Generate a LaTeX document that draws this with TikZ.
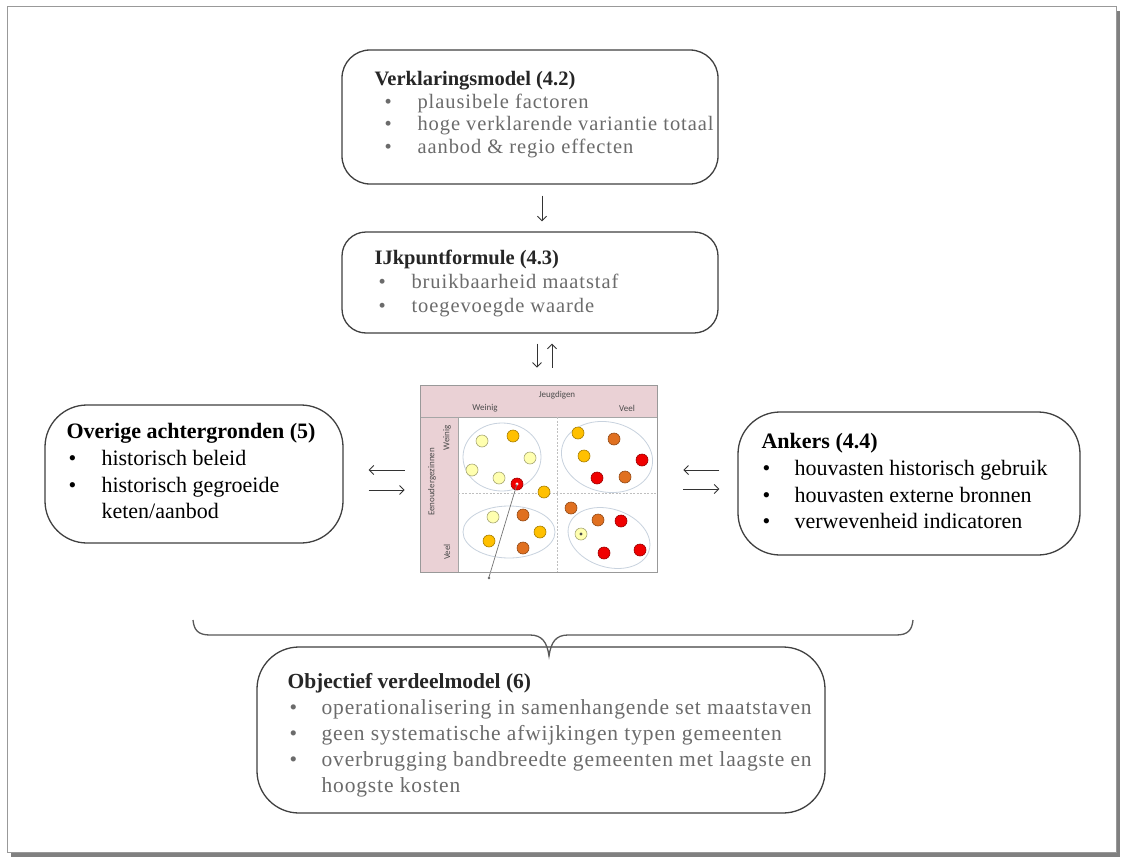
\documentclass[tikz,border=0pt]{standalone}
\usepackage{fontspec}
\setmainfont{Liberation Serif}
\newfontfamily\calib{Carlito}
\usetikzlibrary{arrows.meta,calc}
\definecolor{pinkhdr}{RGB}{234,209,213}
\definecolor{ly}{RGB}{255,255,175}
\definecolor{gd}{RGB}{255,192,0}
\definecolor{orr}{RGB}{224,112,32}
\definecolor{rd}{RGB}{240,0,0}
\definecolor{ellc}{RGB}{200,210,222}
\newcommand{\bl}[3]{\hspace*{#1}\makebox[#2][l]{•}#3}
\newcommand{\itm}[2]{\textcolor{black!58}{\addfontfeature{LetterSpace=#1}#2}}
\begin{document}
\begin{tikzpicture}[x=1pt,y=-1pt,
  box/.style={draw=black!75, line width=1.3pt, rectangle, fill=white, inner sep=0pt},
  txt/.style={anchor=north west, inner sep=0pt, align=left},
  arr/.style={-{Straight Barb[length=4.5pt,width=9pt,line width=0.9pt]}, line width=0.9pt, draw=black!80},
  mtxt/.style={font=\calib\fontsize{9}{10}\selectfont, text=black!70, inner sep=0pt},
  ell/.style={draw=ellc, line width=0.8pt},
  grd/.style={draw=black!35, line width=0.6pt},
  dv/.style={draw=black!25, line width=0.6pt, dash pattern=on 2pt off 1.5pt}]
\useasboundingbox (0,0) rectangle (1121,859);
\fill[white] (0,0) rectangle (1121,859);
% frame with shadow
\fill[black!50] (11,11) rectangle (1120,857);
\fill[white] (7,7) rectangle (1116,852);
\draw[black!40, line width=1pt] (7,7) rectangle (1116,852);

% boxes
\node[box, rounded corners=28pt, minimum width=376pt, minimum height=134pt] (verk) at (530,117) {};
\node[box, rounded corners=24pt, minimum width=376pt, minimum height=101pt] (ijk) at (530,282.5) {};
\node[box, rounded corners=42pt, minimum width=298pt, minimum height=138pt] (ovr) at (194,474) {};
\node[box, rounded corners=42pt, minimum width=342pt, minimum height=143pt] (anc) at (909,483.5) {};
\node[box, rounded corners=42pt, minimum width=568pt, minimum height=166pt] (obj) at (541,730) {};

% texts
\node[txt, font=\fontsize{20.5}{22.5}\selectfont] (verkt) at ([xshift=33pt,yshift=-22pt]verk.north west)
 {\textcolor{black!85}{\textbf{Verklaringsmodel (4.2)}}\\
  \itm{4.5}{\bl{10pt}{33pt}{plausibele factoren}}\\
  \itm{4.5}{\bl{10pt}{33pt}{hoge verklarende variantie totaal}}\\
  \itm{4.5}{\bl{10pt}{33pt}{aanbod \& regio effecten}}};
\node[txt, font=\fontsize{20.5}{24}\selectfont] (ijkt) at ([xshift=33pt,yshift=-19pt]ijk.north west)
 {\textcolor{black!85}{\textbf{IJkpuntformule (4.3)}}\\
  \itm{4.5}{\bl{4pt}{33pt}{bruikbaarheid maatstaf}}\\
  \itm{4.5}{\bl{4pt}{33pt}{toegevoegde waarde}}};
\node[txt, font=\fontsize{22}{26.7}\selectfont] (ovrt) at ([xshift=22pt,yshift=-19pt]ovr.north west)
 {\textbf{Overige achtergronden (5)}\\
  \bl{2pt}{33pt}{historisch beleid}\\
  \bl{2pt}{33pt}{historisch gegroeide}\\
  \hspace*{35pt}keten/aanbod};
\node[txt, font=\fontsize{22}{26.7}\selectfont] (anct) at ([xshift=24pt,yshift=-22pt]anc.north west)
 {\textbf{Ankers (4.4)}\\
  \bl{1pt}{32pt}{houvasten historisch gebruik}\\
  \bl{1pt}{32pt}{houvasten externe bronnen}\\
  \bl{1pt}{32pt}{verwevenheid indicatoren}};
\node[txt, font=\fontsize{21.5}{26}\selectfont] (objt) at ([xshift=31pt,yshift=-27pt]obj.north west)
 {\textcolor{black!85}{\textbf{Objectief verdeelmodel (6)}}\\
  \itm{4}{\bl{2pt}{32pt}{operationalisering in samenhangende set maatstaven}}\\
  \itm{4}{\bl{2pt}{32pt}{geen systematische afwijkingen typen gemeenten}}\\
  \itm{4}{\bl{2pt}{32pt}{overbrugging bandbreedte gemeenten met laagste en}}\\
  \itm{4}{\hspace*{34pt}hoogste kosten}};

% matrix picture
\fill[pinkhdr] (420,385) rectangle (657,417);
\fill[pinkhdr] (420,417) rectangle (458,572);
\draw[grd] (420,417) -- (657,417);
\draw[grd] (458,417) -- (458,572);
\draw[dv] (557,417) -- (557,572);
\draw[dv] (458,493) -- (657,493);
\draw[ell] (502,457) ellipse [x radius=39, y radius=34];
\draw[ell, rotate around={-12:(607,457)}] (607,457) ellipse [x radius=46, y radius=35];
\draw[ell] (509,532) ellipse [x radius=46, y radius=26];
\draw[ell, rotate around={-18:(609,538)}] (609,538) ellipse [x radius=42, y radius=29];
\foreach \x/\y/\cl in {482/441/ly, 513/436/gd, 530/458/ly, 472/470/ly, 499/478/ly, 544/492/gd,
  578/433/gd, 614/439/orr, 584/456/gd, 642/460/rd, 597/478/rd, 625/477/orr,
  493/517/ly, 523/515/orr, 540/532/gd, 489/541/gd, 523/548/orr,
  571/508/orr, 598/520/orr, 621/521/rd, 604/553/rd, 640/550/rd, 581/534/ly, 517/484/rd}
  \filldraw[fill=\cl, draw=\cl!65!black, line width=0.6pt] (\x,\y) circle [radius=6];
\fill[white] (517,484) circle [radius=1.6];
\fill[black!70] (581,534) circle [radius=1.6];
\draw[black!55, line width=0.7pt] (517,484) -- (489,577);
\fill[black!60] (489,578) circle [radius=1.3];
\node[draw=black!40, line width=0.7pt, minimum width=237pt, minimum height=187pt, inner sep=0pt] (mat) at (538.5,478.5) {};
\node[mtxt] (jeugd) at (557,395) {Jeugdigen};
\node[mtxt] (wcol) at (485,408) {Weinig};
\node[mtxt] (vcol) at (627,408) {Veel};
\node[mtxt, rotate=90] (eg) at (432,482) {Eenoudergezinnen};
\node[mtxt, rotate=90] (wrow) at (447,438) {Weinig};
\node[mtxt, rotate=90] (vrow) at (447,552) {Veel};

% arrows
\draw[arr, shorten <=11pt, shorten >=10pt] ([xshift=12pt]verk.south) -- ([xshift=12pt]verk.south |- ijk.north);
\draw[arr, shorten <=10pt, shorten >=17pt] ([xshift=7pt]ijk.south) -- ([xshift=7pt]ijk.south |- mat.north);
\draw[arr, shorten <=17pt, shorten >=10pt] ([xshift=22pt]ijk.south |- mat.north) -- ([xshift=22pt]ijk.south);
\draw[arr, shorten <=15pt, shorten >=25pt] ([yshift=8.5pt]mat.west) -- ([yshift=8.5pt]mat.west -| ovr.east);
\draw[arr, shorten <=25pt, shorten >=15pt] ([yshift=-11.5pt]mat.west -| ovr.east) -- ([yshift=-11.5pt]mat.west);
\draw[arr, shorten <=18pt, shorten >=26pt] ([yshift=8.5pt]mat.east -| anc.west) -- ([yshift=8.5pt]mat.east);
\draw[arr, shorten <=26pt, shorten >=18pt] ([yshift=-10.5pt]mat.east) -- ([yshift=-10.5pt]mat.east -| anc.west);

% brace
\draw[black!65, line width=1.3pt] (193,620) .. controls (194,630) and (198,635) .. (210,635) -- (530,635)
  .. controls (542,635) and (547,642) .. (549,656) .. controls (551,642) and (556,635) .. (568,635)
  -- (896,635) .. controls (908,635) and (912,630) .. (913,620);
\end{tikzpicture}
\end{document}
